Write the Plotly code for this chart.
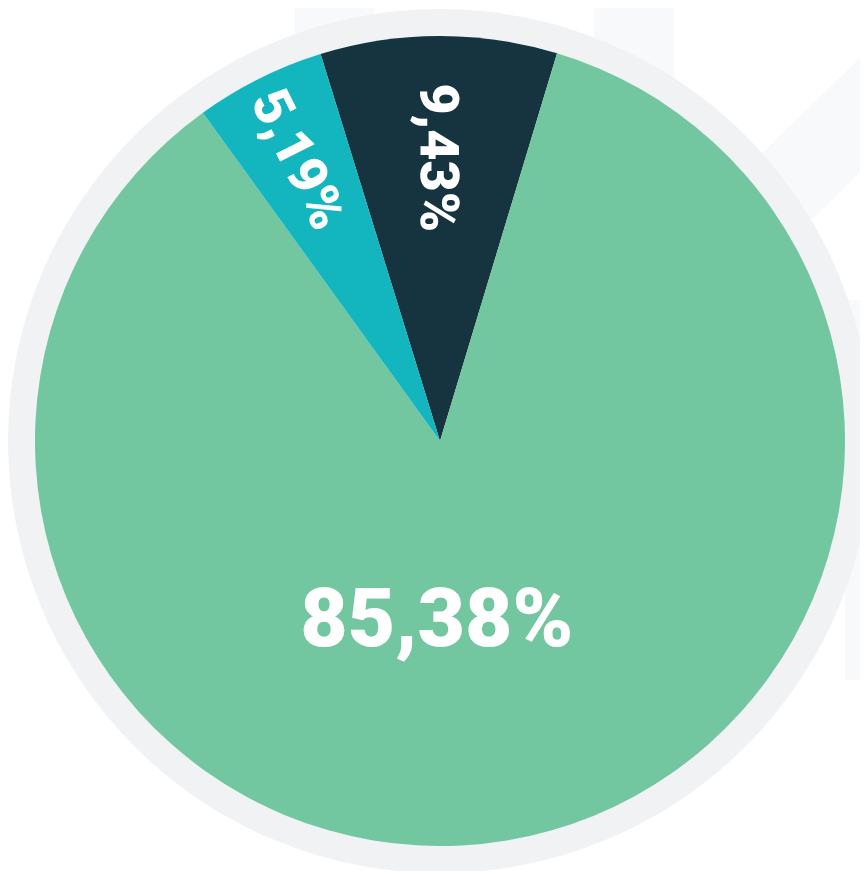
import plotly.graph_objects as go

labels = ["Dark", "Green", "Teal"]
values = [9.43, 85.38, 5.19]
colors = ["#153440", "#73c7a0", "#13b5bf"]
small_text = ["%{value:.2f}%", "", "%{value:.2f}%"]
big_text = ["", "%{value:.2f}%", ""]

# page body has an 8px margin; figure sized to fit inside the window
OFF = 8
W, H = 860, 863
cx, cy, R, RING = 440 - OFF, 441 - OFF, 405, 432
dom_x = [(cx - R) / W, (cx + R) / W]
dom_y = [(H - cy - R) / H, (H - cy + R) / H]
R2 = 355
dom_x2 = [(cx - R2) / W, (cx + R2) / W]
dom_y2 = [(H - cy - R2) / H, (H - cy + R2) / H]

fig = go.Figure()
fig.add_trace(go.Pie(
    labels=labels, values=values, sort=False, direction="clockwise",
    rotation=-17.15,
    marker=dict(colors=colors, line=dict(width=0)),
    texttemplate=small_text, textposition="inside",
    insidetextorientation="radial",
    textfont=dict(family="Roboto", size=54, color="white", weight=900),
    domain=dict(x=dom_x, y=dom_y), showlegend=False, hoverinfo="label+percent",
))
fig.add_trace(go.Pie(
    labels=labels, values=values, sort=False, direction="clockwise",
    rotation=-6.6,
    marker=dict(colors=["rgba(0,0,0,0)"] * 3, line=dict(width=0)),
    texttemplate=big_text, textposition="inside",
    insidetextorientation="horizontal",
    textfont=dict(family="Roboto", size=82, color="white", weight=900),
    domain=dict(x=dom_x2, y=dom_y2), showlegend=False, hoverinfo="skip",
))

deco = "#f8f9fa"
def px(x):
    return (x - OFF) / W
def py(y):
    return 1 - (y - OFF) / H

shapes = [
    dict(type="rect", xref="paper", yref="paper", x0=px(295), x1=px(374), y0=py(60), y1=1, fillcolor=deco, line=dict(width=0), layer="below"),
    dict(type="rect", xref="paper", yref="paper", x0=px(594), x1=px(674), y0=py(80), y1=1, fillcolor=deco, line=dict(width=0), layer="below"),
    dict(type="path", xref="paper", yref="paper",
         path=f"M {px(760)} {py(155)} L {px(868)} {py(50)} L {px(868)} {py(165)} L {px(811)} {py(220)} Z",
         fillcolor=deco, line=dict(width=0), layer="below"),
    dict(type="rect", xref="paper", yref="paper", x0=px(845), x1=1, y0=py(680), y1=py(300), fillcolor=deco, line=dict(width=0), layer="below"),
    dict(type="circle", xref="paper", yref="paper",
         x0=(cx - RING) / W, x1=(cx + RING) / W, y0=(H - cy - RING) / H, y1=(H - cy + RING) / H,
         fillcolor="#f1f2f4", line=dict(width=0), layer="below"),
]

fig.update_layout(
    width=W, height=H, margin=dict(l=0, r=0, t=0, b=0),
    paper_bgcolor="white", plot_bgcolor="white",
    separators=",.", shapes=shapes, showlegend=False,
)
fig.write_html("out.html")
